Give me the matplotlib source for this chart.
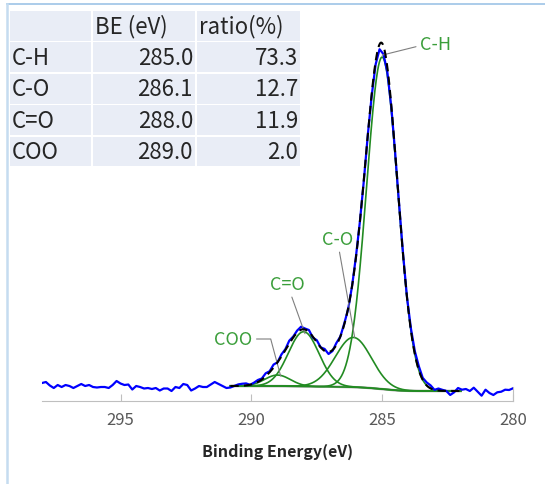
import math
import numpy as np
import matplotlib
matplotlib.use("Agg")
import matplotlib.pyplot as plt
from matplotlib.patches import Rectangle
from matplotlib.lines import Line2D

plt.rcParams['font.family'] = ['Noto Sans CJK JP', 'DejaVu Sans']

# C1s peak fit components
names = ["C-H", "C-O", "C=O", "COO"]
be = [285.0, 286.1, 288.0, 289.0]
ratio = [73.3, 12.7, 11.9, 2.0]
fwhm = [1.40, 1.62, 1.38, 1.15]
total_area = 675.0

# Shirley background levels (high BE side / low BE side) and fit window
bg_high = 15.0
bg_low = 10.0
fit_start, fit_end = 290.8, 282.0

# measured spectrum: 298.0 -> 280.0 eV every 0.15 eV, stored as deviation from the fit
scan_start, scan_end, scan_step = 298.0, 280.0, 0.15
residual = [
    3, 4, 0.5, -2, 1, -1, 1, 0, -2, 0,
    2, 0, 1, -1, -1.5, -1, -1, -2, 1, 5,
    2.5, 1, 1.5, -3.5, 0, -1, -2.5, -2, -3, -2,
    -4.5, -2.5, -2.5, -5, -1, -2, 2, 1, -4.5, -2.5,
    0, -1, -1, 1.5, 4, 2, 0, -2, -1.5, 0,
    1.5, 2, 2, 0, 1, 2, 1, 3, 1, 3,
    0, 2, 1, 3, 1, 2, 3, 1, 2, -1,
    2, 0, 2, -2, -1, 2, 0, 1, -1, 0,
    1, 0, -1, 0, -2, -3, -5, -8, -5, -2,
    0, 1, 1, 0, 2, 3, 4, 2, 3, 3,
    0, 2, 1, 0, -4, -1.3, 3, 1.3, 2, 0,
    3.3, -0.7, -4.7, 1.3, -2, -4, -1.3, -0.7, 1.3, 1, 2.7,
]

# table contents
table_header = ["", "BE (eV)", "ratio(%)"]
table_be = ["285.0", "286.1", "288.0", "289.0"]
table_ratio = ["73.3", "12.7", "11.9", "2.0"]

sigma = [w / (2 * math.sqrt(2 * math.log(2))) for w in fwhm]
height = [total_area * r / 100 / (s * math.sqrt(2 * math.pi)) for r, s in zip(ratio, sigma)]
erf = np.vectorize(math.erf)


def component(e, k):
    return height[k] * np.exp(-(e - be[k]) ** 2 / (2 * sigma[k] ** 2))


def background(e):
    frac = sum(r / 100 * 0.5 * (1 + erf((e - c) / (s * math.sqrt(2))))
               for r, c, s in zip(ratio, be, sigma))
    return bg_low + (bg_high - bg_low) * frac


e_fit = np.linspace(fit_start, fit_end, 500)
bg_fit = background(e_fit)
env_fit = bg_fit + sum(component(e_fit, k) for k in range(4))

e_scan = np.linspace(scan_start, scan_end, len(residual))
measured = background(e_scan) + sum(component(e_scan, k) for k in range(4)) + np.array(residual)

fig = plt.figure(figsize=(5.45, 4.85), dpi=100)
W, H = 545, 485
ax = fig.add_axes([42 / W, 1 - 402 / H, 471 / W, 392 / H])

ax.plot(e_scan, measured, color="#0000FF", lw=1.6, zorder=3)
ax.plot(e_fit, bg_fit, color="#A6A6A6", lw=1.8, zorder=2)
for k in range(4):
    ax.plot(e_fit, bg_fit + component(e_fit, k), color="#228B22", lw=1.2, zorder=2)
ax.plot(e_fit, env_fit, color="black", lw=1.5, ls=(0, (4, 2.5)), zorder=4)

ax.set_xlim(298, 280)
ax.set_ylim(0, 392)
ax.set_xticks([295, 290, 285, 280])
ax.set_yticks([])
for side in ["top", "left"]:
    ax.spines[side].set_visible(False)
ax.spines["bottom"].set_color("#BFBFBF")
ax.spines["right"].set_color("#BFBFBF")
ax.spines["right"].set_bounds(0, 14)
ax.tick_params(axis="x", direction="in", length=5, color="#BFBFBF",
               labelsize=12, labelcolor="#595959", pad=7)
ax.set_xlabel("Binding Energy(eV)", fontsize=11.5, fontweight="bold",
              color="#262626", labelpad=11)
ax.patch.set_alpha(0)

# peak labels
lab = dict(color="#3A9E3A", fontsize=13)
line = dict(arrowstyle="-", color="#7F7F7F", lw=0.8, shrinkA=1, shrinkB=0)
peak_top = [bg_fit[np.argmin(abs(e_fit - c))] + h for c, h in zip(be, height)]
ax.annotate(names[0], xy=(be[0], peak_top[0] + 2), xytext=(283.55, 357),
            ha="left", va="center",
            arrowprops=dict(line, connectionstyle="angle,angleA=0,angleB=14,rad=0", relpos=(0, 0.5)),
            **lab)
ax.annotate(names[1], xy=(be[1] - 0.05, peak_top[1]), xytext=(286.72, 162),
            ha="center", va="center", arrowprops=line, **lab)
ax.annotate(names[2], xy=(be[2] - 0.05, peak_top[2] - 2), xytext=(288.63, 117),
            ha="center", va="center", arrowprops=line, **lab)
ax.annotate(names[3], xy=(be[3] - 0.12, peak_top[3] - 1), xytext=(289.96, 62),
            ha="right", va="center",
            arrowprops=dict(line, connectionstyle="angle,angleA=0,angleB=105,rad=0", relpos=(1, 0.5)),
            **lab)

# overlay in pixel coordinates for the table and the frame
ov = fig.add_axes([0, 0, 1, 1], zorder=5)
ov.set_xlim(0, W)
ov.set_ylim(H, 0)
ov.axis("off")
ov.patch.set_alpha(0)

ov.add_line(Line2D([7, W], [5, 5], color="#9DC3E6", lw=1.2))
ov.add_line(Line2D([7, 7], [5, H], color="#C5DCF0", lw=1.8))

col_left = [10, 93, 197]
col_w = [81, 102, 103]
row_top0, row_pitch, row_h = 12, 31.4, 29.8
rows = [table_header] + [[n, b, r] for n, b, r in zip(names, table_be, table_ratio)]
for i, row in enumerate(rows):
    y0 = row_top0 + i * row_pitch
    yc = y0 + row_h / 2
    for j, txt in enumerate(row):
        ov.add_patch(Rectangle((col_left[j], y0), col_w[j], row_h, facecolor="#E9EDF6", edgecolor="none"))
        if j == 0 or i == 0:
            ov.text(col_left[j] + 2, yc, txt, ha="left", va="center", fontsize=16, color="#262626")
        else:
            ov.text(col_left[j] + col_w[j] - 2, yc, txt, ha="right", va="center", fontsize=16, color="#262626")

fig.savefig("out.png", dpi=100)
